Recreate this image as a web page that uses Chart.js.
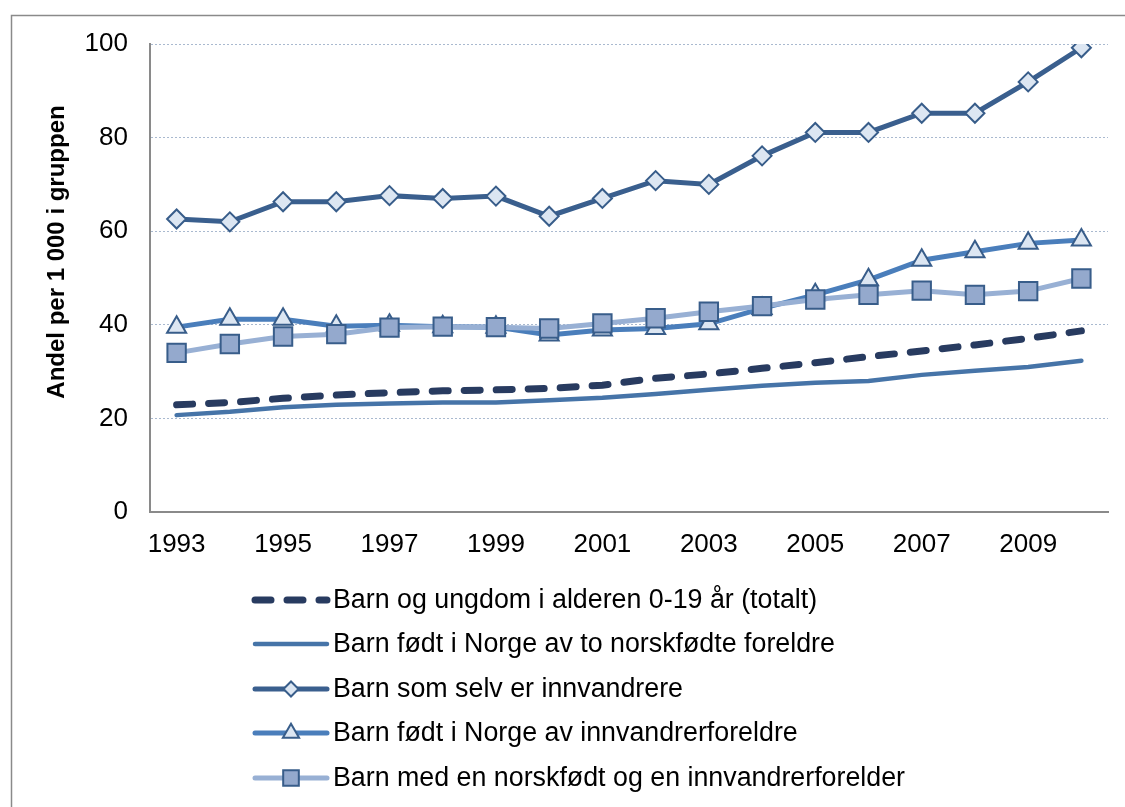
<!DOCTYPE html>
<html>
<head>
<meta charset="utf-8">
<script src="https://cdn.jsdelivr.net/npm/chart.js@4/dist/chart.umd.min.js"></script>
<style>
  html, body { margin: 0; padding: 0; background: #fff; }
  #wrap { width: 1125px; height: 807px; }
</style>
</head>
<body>
<div id="wrap"><canvas id="chart" width="1125" height="807"></canvas></div>
<script>
// Data (per 1 000 in each group)
const years = ['1993', '1994', '1995', '1996', '1997', '1998', '1999', '2000', '2001',
               '2002', '2003', '2004', '2005', '2006', '2007', '2008', '2009', '2010'];
const totalt = [22.9, 23.4, 24.3, 25.0, 25.5, 25.9, 26.1, 26.4, 27.1,
                28.6, 29.5, 30.7, 31.9, 33.2, 34.4, 35.7, 37.1, 38.7];
const toNorskfodte = [20.7, 21.4, 22.4, 22.9, 23.2, 23.4, 23.4, 23.9, 24.4,
                      25.2, 26.1, 27.0, 27.6, 28.0, 29.3, 30.2, 31.0, 32.3];
const selvInnvandrere = [62.6, 62.0, 66.3, 66.3, 67.6, 67.0, 67.5, 63.2, 67.0,
                         70.8, 70.0, 76.1, 81.1, 81.1, 85.2, 85.2, 91.9, 99.2];
const innvandrerforeldre = [39.5, 41.2, 41.2, 39.7, 39.9, 39.6, 39.5, 37.8, 38.9,
                            39.2, 40.2, 43.5, 46.4, 49.6, 53.8, 55.6, 57.4, 58.1];
const enInnvandrerforelder = [34.0, 35.9, 37.5, 38.0, 39.4, 39.6, 39.5, 39.2, 40.3,
                              41.4, 42.8, 44.0, 45.4, 46.4, 47.3, 46.4, 47.2, 49.9];
const yTicks = [0, 20, 40, 60, 80, 100];
const yTitle = 'Andel per 1 000 i gruppen';

const FONT = "'Liberation Sans', Arial, sans-serif";
const markerEdge = '#385d8a';

// outer frame, rotated axis title and the vertical legend
const extras = {
  id: 'extras',
  beforeDraw(chart) {
    const ctx = chart.ctx;
    ctx.save();
    ctx.fillStyle = '#fff';
    ctx.fillRect(0, 0, chart.width, chart.height);
    ctx.strokeStyle = '#8a8a8a';
    ctx.lineWidth = 1.5;
    ctx.strokeRect(11.5, 15.5, chart.width + 20, chart.height + 20);
    ctx.restore();
  },
  afterDraw(chart) {
    const ctx = chart.ctx;
    ctx.save();
    ctx.translate(57, 252);
    ctx.rotate(-Math.PI / 2);
    ctx.font = 'bold 24px ' + FONT;
    ctx.fillStyle = '#000';
    ctx.textAlign = 'center';
    ctx.textBaseline = 'middle';
    ctx.fillText(yTitle, 0, 0);
    ctx.restore();

    // legend, in the original dataset order
    const rowY = [600, 644, 689, 733, 778];
    const x0 = 255, x1 = 327;
    chart.data.datasets.forEach((ds, i) => {
      const y = rowY[i];
      ctx.save();
      ctx.strokeStyle = ds.borderColor;
      ctx.lineWidth = ds.borderWidth;
      ctx.lineCap = 'round';
      ctx.setLineDash(ds.borderDash || []);
      ctx.beginPath();
      ctx.moveTo(x0, y);
      ctx.lineTo(x1, y);
      ctx.stroke();
      ctx.setLineDash([]);
      if (ds.pointStyle && ds.pointRadius > 0) {
        ctx.fillStyle = ds.pointBackgroundColor;
        ctx.strokeStyle = ds.pointBorderColor;
        ctx.lineWidth = ds.pointBorderWidth;
        const r = ds.pointStyle === 'rectRot' ? 7.5 : ds.pointRadius * 0.85;
        Chart.helpers.drawPoint(ctx, { pointStyle: ds.pointStyle, radius: r, rotation: 0, borderWidth: ds.pointBorderWidth }, (x0 + x1) / 2, y);
      }
      ctx.fillStyle = '#000';
      ctx.font = '26.8px ' + FONT;
      ctx.textAlign = 'left';
      ctx.textBaseline = 'middle';
      ctx.fillText(ds.label, x1 + 6, y + 1);
      ctx.restore();
    });
  }
};

new Chart(document.getElementById('chart').getContext('2d'), {
  type: 'line',
  data: {
    labels: years,
    datasets: [
      {
        label: 'Barn og ungdom i alderen 0-19 år (totalt)',
        data: totalt,
        borderColor: '#283b60',
        borderWidth: 7,
        borderDash: [16, 16],
        borderCapStyle: 'round',
        pointRadius: 0,
        pointStyle: false,
        order: 4
      },
      {
        label: 'Barn født i Norge av to norskfødte foreldre',
        data: toNorskfodte,
        borderColor: '#4674a8',
        borderWidth: 4.5,
        borderCapStyle: 'round',
        pointRadius: 0,
        pointStyle: false,
        order: 3
      },
      {
        label: 'Barn som selv er innvandrere',
        data: selvInnvandrere,
        borderColor: '#3a5f8e',
        borderWidth: 5,
        pointStyle: 'rectRot',
        pointRadius: 9.5,
        pointBackgroundColor: '#dce6f2',
        pointBorderColor: markerEdge,
        pointBorderWidth: 2,
        order: 2
      },
      {
        label: 'Barn født i Norge av innvandrerforeldre',
        data: innvandrerforeldre,
        borderColor: '#4a7ebb',
        borderWidth: 5,
        pointStyle: 'triangle',
        pointRadius: 11,
        pointBackgroundColor: '#dce6f2',
        pointBorderColor: markerEdge,
        pointBorderWidth: 2,
        order: 1
      },
      {
        label: 'Barn med en norskfødt og en innvandrerforelder',
        data: enInnvandrerforelder,
        borderColor: '#98b0d4',
        borderWidth: 5,
        pointStyle: 'rect',
        pointRadius: 13,
        pointBackgroundColor: '#94a9cd',
        pointBorderColor: markerEdge,
        pointBorderWidth: 2,
        order: 0
      }
    ]
  },
  options: {
    responsive: false,
    animation: false,
    events: [],
    layout: { padding: { left: 0, top: 44, right: 17, bottom: 245 } },
    plugins: {
      legend: { display: false },
      tooltip: { enabled: false }
    },
    elements: { line: { tension: 0 } },
    scales: {
      x: {
        offset: true,
        afterFit(scale) { scale.height = 50; },
        grid: { display: false, drawTicks: false },
        border: { display: true, color: '#8a8a8a', width: 2 },
        ticks: {
          autoSkip: false,
          maxRotation: 0,
          padding: 17,
          color: '#000',
          font: { family: FONT, size: 26 },
          callback(value, index) { return index % 2 === 0 ? years[index] : ''; }
        }
      },
      y: {
        min: yTicks[0],
        max: yTicks[yTicks.length - 1],
        afterFit(scale) { scale.width = 150; },
        afterBuildTicks(scale) { scale.ticks = yTicks.map(v => ({ value: v })); },
        grid: {
          drawTicks: false,
          color: ctx => ctx.tick.value === 0 ? 'rgba(0,0,0,0)' : '#a9b9cf',
          lineWidth: 1
        },
        border: { display: true, color: '#8a8a8a', width: 2, dash: [2, 2] },
        ticks: {
          padding: 22,
          color: '#000',
          font: { family: FONT, size: 26 }
        }
      }
    }
  },
  plugins: [extras]
});
</script>
</body>
</html>
